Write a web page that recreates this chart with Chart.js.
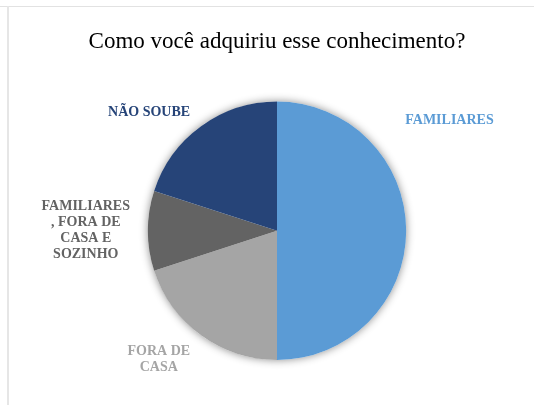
<!DOCTYPE html>
<html>
<head>
<meta charset="utf-8">
<script src="https://cdn.jsdelivr.net/npm/chart.js@4/dist/chart.umd.min.js"></script>
<style>
  html, body { margin: 0; padding: 0; background: #ffffff; }
  #wrap { position: relative; width: 534px; height: 405px; overflow: hidden; }
  #frameTop { position: absolute; left: 0; top: 6px; width: 534px; height: 1px; background: #e2e2e2; }
  #frameLeft { position: absolute; left: 7px; top: 6px; width: 2px; height: 399px; background: #e6e6e6; }
  canvas { position: absolute; left: 0; top: 0; }
</style>
</head>
<body>
<div id="wrap">
  <canvas id="chart" width="534" height="405"></canvas>
  <div id="frameTop"></div>
  <div id="frameLeft"></div>
</div>
<script>
// Survey answers: how the knowledge was acquired (share of respondents, %)
const categories = ['FAMILIARES', 'FORA DE CASA', 'FAMILIARES , FORA DE CASA E SOZINHO', 'NÃO SOUBE'];
const shares = [50, 20, 10, 20];
const labelLines = [
  ['FAMILIARES'],
  ['FORA DE', 'CASA'],
  ['FAMILIARES', ', FORA DE', 'CASA E', 'SOZINHO'],
  ['NÃO SOUBE']
];
const sliceColors = ['#5b9bd5', '#a5a5a5', '#636363', '#264478'];

// Where each category label sits, as offsets from the pie centre in units of the radius
const labelOffsets = [
  [1.335, -0.855],
  [-0.915, 0.995],
  [-1.48, 0.0],
  [-0.99, -0.92]
];

const serif = '"Liberation Serif", "Times New Roman", serif';

// Soft shadow behind the whole pie
const pieShadow = {
  id: 'pieShadow',
  beforeDatasetsDraw(chart) {
    const arc = chart.getDatasetMeta(0).data[0];
    if (!arc) return;
    const ctx = chart.ctx;
    ctx.save();
    ctx.shadowColor = 'rgba(0,0,0,0.45)';
    ctx.shadowBlur = 8;
    ctx.beginPath();
    ctx.arc(arc.x, arc.y, arc.outerRadius, 0, Math.PI * 2);
    ctx.fillStyle = '#ffffff';
    ctx.fill();
    ctx.restore();
  }
};

// Category names drawn outside the pie in the slice colour
const sliceLabels = {
  id: 'sliceLabels',
  afterDatasetsDraw(chart) {
    const meta = chart.getDatasetMeta(0);
    const ctx = chart.ctx;
    ctx.save();
    ctx.font = 'bold 14px ' + serif;
    ctx.textAlign = 'center';
    ctx.textBaseline = 'middle';
    meta.data.forEach((arc, i) => {
      const r = arc.outerRadius;
      const cx = arc.x + labelOffsets[i][0] * r;
      const cy = arc.y + labelOffsets[i][1] * r;
      const lines = labelLines[i];
      const lh = 16;
      ctx.fillStyle = sliceColors[i];
      lines.forEach((t, k) => {
        ctx.fillText(t, cx, cy + (k - (lines.length - 1) / 2) * lh);
      });
    });
    ctx.restore();
  }
};

new Chart(document.getElementById('chart'), {
  type: 'pie',
  data: {
    labels: categories,
    datasets: [{
      data: shares,
      backgroundColor: sliceColors,
      borderWidth: 0
    }]
  },
  options: {
    responsive: false,
    animation: false,
    layout: { padding: { top: 10, bottom: 45, left: 30, right: 10 } },
    plugins: {
      legend: { display: false },
      tooltip: { enabled: false },
      title: {
        display: true,
        text: 'Como você adquiriu esse conhecimento?',
        color: '#000000',
        font: { family: serif, size: 23, weight: 'normal', lineHeight: 1.2 },
        padding: { top: 18, bottom: 46 }
      }
    }
  },
  plugins: [pieShadow, sliceLabels]
});
</script>
</body>
</html>
